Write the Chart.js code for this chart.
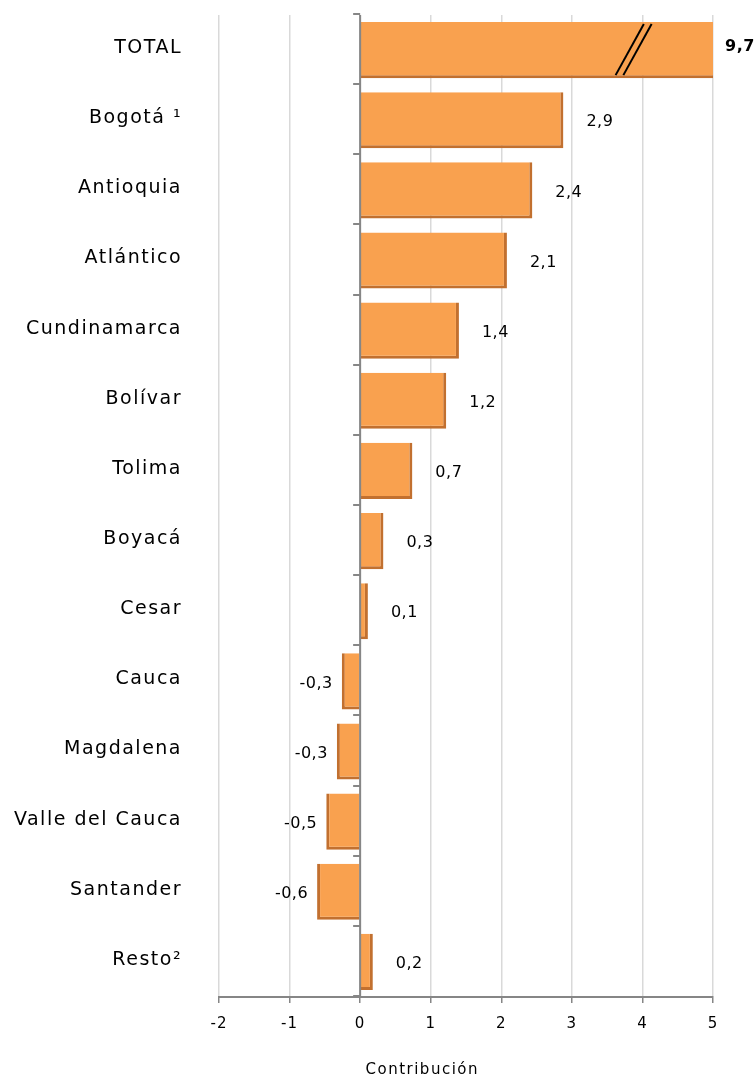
<!DOCTYPE html>
<html>
<head>
<meta charset="utf-8">
<script src="https://cdn.jsdelivr.net/npm/chart.js@4/dist/chart.umd.min.js"></script>
<style>
  html, body { margin: 0; padding: 0; background: #fff; }
  #wrap { width: 755px; height: 1080px; position: relative; }
</style>
</head>
<body>
<div id="wrap"><canvas id="chart"></canvas></div>
<script>
const categories = ['TOTAL', 'Bogotá ¹', 'Antioquia', 'Atlántico', 'Cundinamarca', 'Bolívar', 'Tolima',
    'Boyacá', 'Cesar', 'Cauca', 'Magdalena', 'Valle del Cauca', 'Santander', 'Resto²'];
const values = [9.7, 2.88, 2.44, 2.08, 1.4, 1.22, 0.74, 0.33, 0.11, -0.26, -0.33, -0.48, -0.61, 0.18];
const valueLabels = ['9,7', '2,9', '2,4', '2,1', '1,4', '1,2', '0,7', '0,3', '0,1', '-0,3', '-0,3', '-0,5', '-0,6', '0,2'];
const xMin = -2;
const xMax = 5;
const axisTitle = 'Contribución';

const barColor = '#F9A14F';
const shadowColor = '#C2702F';
const font = '"DejaVu Sans", sans-serif';

const overlay = {
    id: 'overlay',
    beforeDraw(chart) {
        // slightly spaced tick labels, like the original
        chart.ctx.letterSpacing = '1px';
    },
    afterDatasetsDraw(chart) {
        const ctx = chart.ctx;
        const x = chart.scales.x;
        const area = chart.chartArea;
        const zero = x.getPixelForValue(0);
        ctx.save();
        // vertical axis at zero with category ticks
        ctx.strokeStyle = '#868686';
        ctx.lineWidth = 2;
        ctx.beginPath();
        ctx.moveTo(zero, area.top);
        ctx.lineTo(zero, area.bottom);
        const band = (area.bottom - area.top) / categories.length;
        for (let i = 0; i <= categories.length; i++) {
            const ty = Math.round(area.top + i * band) - 1;
            ctx.moveTo(zero - 7, ty);
            ctx.lineTo(zero, ty);
        }
        ctx.stroke();

        // break marks on the clipped TOTAL bar
        const bar = chart.getDatasetMeta(0).data[0];
        const top = bar.y - bar.height / 2 + 2;
        const bottom = bar.y + bar.height / 2 - 3;
        ctx.strokeStyle = '#000';
        ctx.lineWidth = 2;
        [3.62, 3.73].forEach(v => {
            const x0 = x.getPixelForValue(v);
            const x1 = x.getPixelForValue(v + 0.4);
            ctx.beginPath();
            ctx.moveTo(x0, bottom);
            ctx.lineTo(x1, top);
            ctx.stroke();
        });
        ctx.restore();
    },
    afterDraw(chart) {
        const ctx = chart.ctx;
        const x = chart.scales.x;
        const y = chart.scales.y;
        const area = chart.chartArea;
        ctx.save();
        ctx.fillStyle = '#000';
        ctx.textBaseline = 'middle';

        // category labels
        ctx.font = '19px ' + font;
        ctx.letterSpacing = '1.5px';
        ctx.textAlign = 'right';
        categories.forEach((c, i) => {
            ctx.fillText(c, area.left - 37, y.getPixelForValue(i) - 2);
        });

        // value labels
        ctx.letterSpacing = '0.5px';
        values.forEach((v, i) => {
            const cy = y.getPixelForValue(i) + 2;
            if (v > xMax) {
                ctx.font = 'bold 16px ' + font;
                ctx.textAlign = 'left';
                ctx.fillText(valueLabels[i], area.right + 12, cy - 5);
            } else if (v >= 0) {
                ctx.font = '16px ' + font;
                ctx.textAlign = 'left';
                ctx.fillText(valueLabels[i], x.getPixelForValue(v) + 23, cy);
            } else {
                ctx.font = '16px ' + font;
                ctx.textAlign = 'right';
                ctx.fillText(valueLabels[i], x.getPixelForValue(v) - 9, cy);
            }
        });

        // axis title
        ctx.font = '15px ' + font;
        ctx.letterSpacing = '1.5px';
        ctx.textAlign = 'center';
        ctx.fillText(axisTitle, x.getPixelForValue(0.88), chart.height - 10);
        ctx.restore();
    }
};

const ctx = document.getElementById('chart').getContext('2d');
new Chart(ctx, {
    type: 'bar',
    data: {
        labels: categories,
        datasets: [{
            data: values,
            backgroundColor: barColor,
            borderColor: shadowColor,
            borderSkipped: false,
            borderWidth: c => {
                const v = values[c.dataIndex];
                return v >= 0 ? { top: 0, right: 3, bottom: 3, left: 0 } : { top: 0, right: 0, bottom: 3, left: 3 };
            },
            barPercentage: 0.8,
            categoryPercentage: 1
        }]
    },
    options: {
        indexAxis: 'y',
        responsive: true,
        maintainAspectRatio: false,
        animation: false,
        layout: { padding: { top: 15, right: 42, bottom: 0, left: 0 } },
        plugins: {
            legend: { display: false },
            tooltip: { enabled: false }
        },
        scales: {
            x: {
                min: xMin,
                max: xMax,
                ticks: {
                    stepSize: 1,
                    color: '#000',
                    padding: 12,
                    font: { family: font, size: 15 }
                },
                grid: {
                    color: '#D9D9D9',
                    lineWidth: 1.5,
                    tickColor: '#868686',
                    tickLength: 6
                },
                border: { color: '#868686', width: 2 },
                afterFit: s => { s.height = 83; }
            },
            y: {
                ticks: { display: false },
                grid: { display: false },
                border: { display: false },
                afterFit: s => { s.width = 219; }
            }
        }
    },
    plugins: [overlay]
});
</script>
</body>
</html>
